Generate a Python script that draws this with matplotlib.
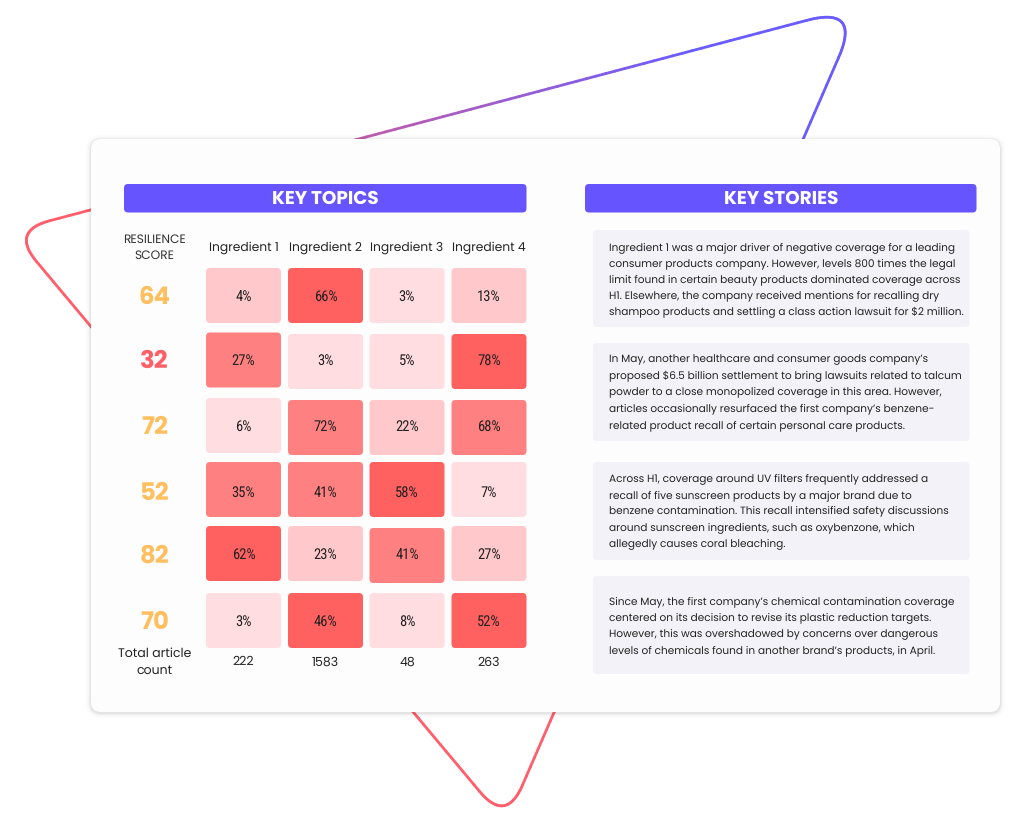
import numpy as np
import matplotlib
matplotlib.use("Agg")
import matplotlib.pyplot as plt
from matplotlib.patches import FancyBboxPatch
from matplotlib.collections import LineCollection

plt.rcParams["text.hinting"] = "no_hinting"

ingredients = ["Ingredient 1", "Ingredient 2", "Ingredient 3", "Ingredient 4"]
scores = [64, 32, 72, 52, 82, 70]
shares = [
    [4, 66, 3, 13],
    [27, 3, 5, 78],
    [6, 72, 22, 68],
    [35, 41, 58, 7],
    [62, 23, 41, 27],
    [3, 46, 8, 52],
]
article_counts = [222, 1583, 48, 263]

stories = [
    ["Ingredient 1 was a major driver of negative coverage for a leading",
     "consumer products company. However, levels 800 times the legal",
     "limit found in certain beauty products dominated coverage across",
     "H1. Elsewhere, the company received mentions for recalling dry",
     "shampoo products and settling a class action lawsuit for \\$2 million."],
    ["In May, another healthcare and consumer goods company\u2019s",
     "proposed \\$6.5 billion settlement to bring lawsuits related to talcum",
     "powder to a close monopolized coverage in this area. However,",
     "articles occasionally resurfaced the first company\u2019s benzene-",
     "related product recall of certain personal care products."],
    ["Across H1, coverage around UV filters frequently addressed a",
     "recall of five sunscreen products by a major brand due to",
     "benzene contamination. This recall intensified safety discussions",
     "around sunscreen ingredients, such as oxybenzone, which",
     "allegedly causes coral bleaching."],
    ["Since May, the first company\u2019s chemical contamination coverage",
     "centered on its decision to revise its plastic reduction targets.",
     "However, this was overshadowed by concerns over dangerous",
     "levels of chemicals found in another brand\u2019s products, in April."],
]

# colours are not a straight scale of the value in the original
shade = [
    [1, 3, 0, 1],
    [2, 0, 0, 3],
    [0, 2, 1, 2],
    [2, 2, 3, 0],
    [3, 1, 2, 1],
    [0, 3, 0, 3],
]
shade_colors = ["#ffdde0", "#ffc9cc", "#ff8080", "#ff6060"]
score_colors = ["#ffbf5f", "#ff5f66", "#ffbf5f", "#ffbf5f", "#ffbf5f", "#ffbf5f"]

body_font = ["Poppins", "Inter"]
number_font = "Roboto Condensed"

fig = plt.figure(figsize=(10.24, 8.29), dpi=100)
ax = fig.add_axes([0, 0, 1, 1])
ax.set_xlim(0, 1024)
ax.set_ylim(828, -1)
ax.axis("off")


def box(x0, y0, x1, y1, color, r=4, z=3, **kw):
    p = FancyBboxPatch((x0, y0), x1 - x0, y1 - y0,
                       boxstyle=f"round,pad=0,rounding_size={r}",
                       fc=color, ec="none", zorder=z, **kw)
    ax.add_patch(p)


def label(x, y, s, size, color="#222222", weight="normal", family=body_font, ha="center"):
    ax.text(x, y, s, color=color, fontsize=size, fontweight=weight, family=family,
            ha=ha, va="center", zorder=4)


# rounded triangle behind the card
corners = np.array([(861, 6), (11, 231), (506, 823)], dtype=float)
radii = [56, 40, 41]
pts = []
for i in range(3):
    c = corners[i]
    a = corners[i - 1]
    b = corners[(i + 1) % 3]
    r = radii[i]
    r_next = radii[(i + 1) % 3]
    p0 = c + (a - c) / np.linalg.norm(a - c) * r
    p1 = c + (b - c) / np.linalg.norm(b - c) * r
    for t in np.linspace(0, 1, 30):
        pts.append((1 - t) ** 2 * p0 + 2 * t * (1 - t) * c + t ** 2 * p1)
    e = b - (b - c) / np.linalg.norm(b - c) * r_next
    for t in np.linspace(0, 1, 80):
        pts.append(p1 + (e - p1) * t)
pts = np.array(pts + [pts[0]])
s = pts[:, 0] - 0.9 * pts[:, 1]
t = np.clip((s + 50) / 700, 0, 1)
red = np.array(matplotlib.colors.to_rgb("#ff5f6d"))
blue = np.array(matplotlib.colors.to_rgb("#6a5cff"))
seg_colors = red + (blue - red) * t[:-1, None]
segs = np.stack([pts[:-1], pts[1:]], axis=1)
ax.add_collection(LineCollection(segs, colors=seg_colors, linewidths=2.0, zorder=1, capstyle="round"))

# card with a soft shadow
for grow, alpha in [(5, 0.015), (3, 0.02), (2, 0.03), (1, 0.04)]:
    box(91 - grow, 139 - grow + 1, 1000 + grow, 712 + grow + 1, "#000000", r=10 + grow, z=2, alpha=alpha)
box(91, 139, 1000, 712, "#fdfdfe", r=10, z=2.5)

# headers
box(124, 184, 526.5, 212.5, "#6655ff")
box(585, 184, 976.5, 212.5, "#6655ff")
label(325, 198.5, "KEY TOPICS", 13.25, color="white", weight="bold")
label(781, 198.5, "KEY STORIES", 13.25, color="white", weight="bold")

# heatmap
col_left = [206, 288, 369.5, 451.5]
cell_w = 75
cell_h = 55
row_top = [
    [268, 268, 268, 268],
    [332.5, 334, 334, 334],
    [398, 400, 400, 400],
    [462, 462, 462, 462],
    [526, 526, 528, 526],
    [593, 593, 593, 593],
]
row_text = [296, 360, 426, 492, 554, 620.5]

label(154.5, 239, "RESILIENCE", 8.8, color="#333333")
label(154.5, 255, "SCORE", 8.8, color="#333333")
for j, name in enumerate(ingredients):
    label(col_left[j] + cell_w / 2, 247, name, 8.85)
for i, row in enumerate(shares):
    label(154.5, row_text[i] + 1.5, str(scores[i]), 17.5, color=score_colors[i], weight="bold")
    for j, v in enumerate(row):
        top = row_top[i][j]
        box(col_left[j], top, col_left[j] + cell_w, top + cell_h, shade_colors[shade[i][j]])
        label(col_left[j] + cell_w / 2, row_text[i], f"{v}%", 10.5, family=number_font)

label(154.5, 653, "Total article", 9)
label(154.5, 670, "count", 9)
for j, n in enumerate(article_counts):
    label(col_left[j] + cell_w / 2, 661.5, str(n), 9)

# story boxes
story_box = [(230, 327), (343, 441), (462, 560), (576, 674)]
story_lines = [
    [246.5, 263, 278.5, 295, 311.5],
    [359, 375.5, 391, 408, 424.5],
    [478, 494.5, 510, 527, 543],
    [601, 616.5, 633, 649.5],
]
for k, lines in enumerate(stories):
    box(593, story_box[k][0], 969.5, story_box[k][1], "#f2f2f8")
    for n, line in enumerate(lines):
        label(609, story_lines[k][n], line, 7.6, color="#222222", ha="left")

fig.savefig("out.png", dpi=100)
